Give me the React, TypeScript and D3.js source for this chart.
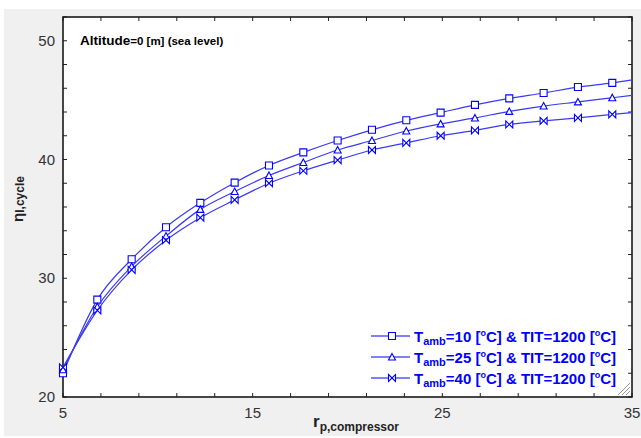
import { useEffect, useRef } from 'react';
import * as d3 from 'd3';

// pressure ratio at the plotted points (last entry is the curve end, no marker)
const rp = [5, 6.81, 8.62, 10.43, 12.24, 14.05, 15.86, 17.67, 19.48, 21.29, 23.1, 24.91, 26.72, 28.53, 30.34, 32.15, 33.96, 35];
const etaT10 = [22.0, 28.2, 31.6, 34.3, 36.35, 38.05, 39.5, 40.6, 41.6, 42.5, 43.3, 43.95, 44.6, 45.15, 45.6, 46.1, 46.45, 46.7];
const etaT25 = [22.3, 27.6, 31.0, 33.55, 35.8, 37.3, 38.65, 39.75, 40.8, 41.6, 42.4, 43.0, 43.5, 44.05, 44.5, 44.85, 45.2, 45.4];
const etaT40 = [22.5, 27.3, 30.7, 33.2, 35.1, 36.6, 38.0, 39.05, 39.95, 40.8, 41.4, 42.0, 42.45, 42.95, 43.25, 43.5, 43.8, 43.95];
const tambLabels = ['10', '25', '40'];
const xTickLabels = [5, 15, 25, 35];
const yTickLabels = [20, 30, 40, 50];

type Pt = { x: number; y: number };

export default function App() {
  const svgRef = useRef<SVGSVGElement>(null);

  useEffect(() => {
    if (!svgRef.current) return;
    const width = 641;
    const height = 438;
    const svg = d3.select(svgRef.current).attr('width', width).attr('height', height);
    svg.selectAll('*').remove();

    const margin = { top: 17, right: 9, bottom: 41, left: 63 };
    const x = d3.scaleLinear().domain([5, 35]).range([margin.left, width - margin.right]);
    const y = d3.scaleLinear().domain([20, 52]).range([height - margin.bottom, margin.top]);
    const blue = '#0000ff';
    const lineBlue = '#3a3af4';
    const font = 'Liberation Sans, Arial, sans-serif';

    // panel background
    svg.append('rect').attr('x', 0).attr('y', 0).attr('width', width).attr('height', height).attr('fill', '#ffffff');
    svg.append('rect').attr('x', 4).attr('y', 9).attr('width', width - 4).attr('height', height - 11).attr('fill', '#f0f0f0');
    svg.append('rect')
      .attr('x', x(5)).attr('y', y(52))
      .attr('width', x(35) - x(5)).attr('height', y(20) - y(52))
      .attr('fill', '#ffffff');

    // ticks (inward, on all four sides)
    const xMinor = d3.range(5, 35.01, 2);
    const yMinor = d3.range(20, 52.01, 2);
    const tickLen = 4;
    const ticks = svg.append('g').attr('stroke', '#222').attr('stroke-width', 1);
    xMinor.forEach(v => {
      ticks.append('line').attr('x1', x(v)).attr('x2', x(v)).attr('y1', y(20)).attr('y2', y(20) - tickLen);
      ticks.append('line').attr('x1', x(v)).attr('x2', x(v)).attr('y1', y(52)).attr('y2', y(52) + tickLen);
    });
    yMinor.forEach(v => {
      ticks.append('line').attr('x1', x(5)).attr('x2', x(5) + tickLen).attr('y1', y(v)).attr('y2', y(v));
      ticks.append('line').attr('x1', x(35)).attr('x2', x(35) - tickLen).attr('y1', y(v)).attr('y2', y(v));
    });

    // frame
    svg.append('rect')
      .attr('x', x(5)).attr('y', y(52))
      .attr('width', x(35) - x(5)).attr('height', y(20) - y(52))
      .attr('fill', 'none').attr('stroke', '#1a1a1a').attr('stroke-width', 1.6);

    // tick labels
    xTickLabels.forEach(v => {
      svg.append('text')
        .attr('x', x(v)).attr('y', y(20) + 21)
        .attr('text-anchor', 'middle')
        .attr('font-family', font).attr('font-size', 15).attr('fill', '#333')
        .text(v);
    });
    yTickLabels.forEach(v => {
      svg.append('text')
        .attr('x', x(5) - 8).attr('y', y(v) + 5)
        .attr('text-anchor', 'end')
        .attr('font-family', font).attr('font-size', 15).attr('fill', '#333')
        .text(v);
    });

    // axis titles
    const xt = svg.append('text')
      .attr('x', 313).attr('y', 427)
      .attr('font-family', font).attr('font-weight', 'bold').attr('fill', '#222');
    xt.append('tspan').attr('font-size', 17).text('r');
    xt.append('tspan').attr('font-size', 12).attr('dy', 4).text('p,compressor');

    const yt = svg.append('text')
      .attr('transform', 'translate(23,199) rotate(-90)')
      .attr('text-anchor', 'middle')
      .attr('font-family', font).attr('font-weight', 'bold').attr('fill', '#222');
    yt.append('tspan').attr('font-size', 15).text('η');
    yt.append('tspan').attr('font-size', 12).attr('dy', 1).text('I,cycle');

    // annotation
    const ann = svg.append('text')
      .attr('x', 80).attr('y', 45)
      .attr('font-family', font).attr('font-weight', 'bold').attr('fill', '#000');
    ann.append('tspan').attr('font-size', 13.5).text('Altitude');
    ann.append('tspan').attr('font-size', 11.5).text('=0 [m] (sea level)');

    // series
    const series = [etaT10, etaT25, etaT40];
    const shapes = [
      'M-3.5,-3.5H3.5V3.5H-3.5Z',
      'M0,-3.5L3.5,3L-3.5,3Z',
      'M-3.5,-3.5L3.5,3.5V-3.5L-3.5,3.5Z'
    ];
    const line = d3.line<Pt>().x(d => x(d.x)).y(d => y(d.y)).curve(d3.curveMonotoneX);
    const plot = svg.append('g');
    series.forEach((vals, i) => {
      const pts: Pt[] = rp.map((r, k) => ({ x: r, y: vals[k] }));
      plot.append('path')
        .datum(pts)
        .attr('fill', 'none').attr('stroke', lineBlue).attr('stroke-width', 1.2)
        .attr('d', line);
      plot.selectAll(`.m${i}`)
        .data(pts.slice(0, -1))
        .enter()
        .append('path')
        .attr('class', `m${i}`)
        .attr('transform', d => `translate(${x(d.x)},${y(d.y)})`)
        .attr('d', shapes[i])
        .attr('fill', '#fff').attr('stroke', blue).attr('stroke-width', 1.1);
    });

    // legend
    const rowY = [336, 357, 378];
    tambLabels.forEach((t, i) => {
      const g = svg.append('g').attr('transform', `translate(0,${rowY[i]})`);
      g.append('line').attr('x1', 371).attr('x2', 410).attr('y1', 0).attr('y2', 0)
        .attr('stroke', blue).attr('stroke-width', 1.1);
      g.append('path').attr('transform', 'translate(392,0)').attr('d', shapes[i])
        .attr('fill', '#fff').attr('stroke', blue).attr('stroke-width', 1.1);
      const tx = g.append('text')
        .attr('x', 414).attr('y', 6)
        .attr('font-family', font).attr('font-weight', 'bold').attr('font-size', 15).attr('fill', blue);
      tx.append('tspan').text('T');
      tx.append('tspan').attr('font-size', 11).attr('dy', 3).text('amb');
      tx.append('tspan').attr('dy', -3).text(`=${t} [`);
      tx.append('tspan').attr('font-size', 9).attr('dy', -6).text('o');
      tx.append('tspan').attr('dy', 6).text('C] & TIT=1200 [');
      tx.append('tspan').attr('font-size', 9).attr('dy', -6).text('o');
      tx.append('tspan').attr('dy', 6).text('C]');
    });

    // resize grip
    const grip = svg.append('g').attr('stroke', '#9a9a9a').attr('stroke-width', 1);
    [4, 8, 12].forEach(s => {
      grip.append('line')
        .attr('x1', x(35) - 2 - s).attr('y1', y(20) - 2)
        .attr('x2', x(35) - 2).attr('y2', y(20) - 2 - s);
    });
  }, []);

  return (
    <div style={{ position: 'absolute', left: 0, top: 0, width: 641, height: 438 }}>
      <svg ref={svgRef} style={{ display: 'block' }} />
    </div>
  );
}
